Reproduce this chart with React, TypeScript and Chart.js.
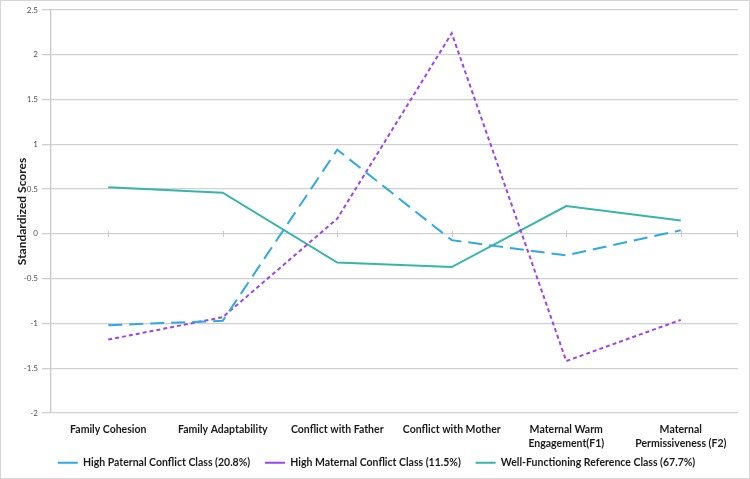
import React, { useEffect, useRef } from "react";
import { Chart, registerables } from "chart.js";

Chart.register(...registerables);

const categories: (string | string[])[] = [
  "Family Cohesion",
  "Family Adaptability",
  "Conflict with Father",
  "Conflict with Mother",
  ["Maternal Warm", "Engagement(F1)"],
  ["Maternal", "Permissiveness (F2)"],
];

const paternalLabel = "High Paternal Conflict Class (20.8%)";
const maternalLabel = "High Maternal Conflict Class (11.5%)";
const wellLabel = "Well-Functioning Reference Class (67.7%)";

const paternalValues = [-1.02, -0.97, 0.94, -0.07, -0.24, 0.04];
const maternalValues = [-1.18, -0.93, 0.17, 2.24, -1.42, -0.96];
const wellValues = [0.52, 0.46, -0.32, -0.37, 0.31, 0.15];

const yMin = -2;
const yMax = 2.5;
const yStep = 0.5;
const yTitle = "Standardized Scores";

const FONT = "Lato, 'Open Sans', sans-serif";
const ITEM_GAP = "\u00a0\u00a0\u00a0\u00a0\u00a0";

const zeroTicks = {
  id: "zeroTicks",
  afterDatasetsDraw(chart: any) {
    const { ctx, scales } = chart;
    const x = scales.x;
    const y = scales.y;
    const yz = y.getPixelForValue(0);
    ctx.save();
    ctx.strokeStyle = "#c8c8c8";
    ctx.lineWidth = 1;
    ctx.beginPath();
    for (let i = 0; i < categories.length; i++) {
      const px = Math.round(x.getPixelForValue(i)) + 0.5;
      ctx.moveTo(px, yz - 3);
      ctx.lineTo(px, yz + 3);
    }
    const r = Math.round(x.right) - 0.5;
    ctx.moveTo(r, yz - 3);
    ctx.lineTo(r, yz + 3);
    ctx.stroke();
    ctx.restore();
  },
};

export default function App() {
  const ref = useRef<HTMLCanvasElement>(null);
  useEffect(() => {
    if (!ref.current) return;
    const chart = new Chart(ref.current, {
      type: "line",
      data: {
        labels: categories,
        datasets: [
          {
            label: paternalLabel,
            data: paternalValues,
            borderColor: "#2fa9e6",
            backgroundColor: "#2fa9e6",
            borderWidth: 2,
            borderDash: [14, 7],
            pointRadius: 0,
            tension: 0,
          },
          {
            label: maternalLabel,
            data: maternalValues,
            borderColor: "#9b45ee",
            backgroundColor: "#9b45ee",
            borderWidth: 2,
            borderDash: [4, 3],
            pointRadius: 0,
            tension: 0,
          },
          {
            label: wellLabel,
            data: wellValues,
            borderColor: "#36b5a8",
            backgroundColor: "#36b5a8",
            borderWidth: 2,
            pointRadius: 0,
            tension: 0,
          },
        ],
      },
      options: {
        animation: false,
        responsive: false,
        maintainAspectRatio: false,
        layout: { padding: { left: 14, right: 11, top: 9, bottom: 0 } },
        plugins: {
          tooltip: { enabled: false },
          legend: {
            position: "bottom",
            labels: {
              usePointStyle: true,
              pointStyle: "line",
              pointStyleWidth: 20,
              boxHeight: 2,
              padding: 2,
              color: "#1a1a1a",
              font: { family: FONT, size: 10.5, weight: 700 },
              generateLabels(c: any) {
                const items = Chart.defaults.plugins.legend.labels.generateLabels(c);
                items.forEach((it: any, i: number) => {
                  if (i < items.length - 1) it.text = it.text + ITEM_GAP;
                });
                return items;
              },
            },
          },
        },
        scales: {
          x: {
            offset: true,
            grid: { display: false, drawTicks: false },
            border: { display: false },
            afterFit(scale: any) {
              scale.height = 42.5;
            },
            ticks: {
              color: "#1a1a1a",
              font: { family: FONT, size: 10.5, weight: 700, lineHeight: 1.3 },
              maxRotation: 0,
              autoSkip: false,
              padding: 10,
            },
          },
          y: {
            min: yMin,
            max: yMax,
            afterFit(scale: any) {
              scale.width = 36;
            },
            ticks: {
              stepSize: yStep,
              color: "#505050",
              font: { family: FONT, size: 8 },
              padding: 4,
              callback: (v: any) => String(Number(v)),
            },
            grid: { color: "#d0d0d0", lineWidth: 1.3, tickLength: 9 },
            border: { display: true, color: "#c8c8c8", width: 1.3 },
            title: {
              display: true,
              text: yTitle,
              color: "#1a1a1a",
              font: { family: FONT, size: 12, weight: 700 },
              padding: { top: 0, bottom: 0 },
            },
          },
        },
      },
      plugins: [zeroTicks],
    });
    return () => chart.destroy();
  }, []);
  return (
    <div
      style={{
        position: "absolute",
        left: 0,
        top: 0,
        width: 750,
        height: 479,
        background: "#fff",
        boxSizing: "border-box",
        border: "1px solid #d6d6d6",
        overflow: "hidden",
      }}
    >
      <canvas ref={ref} width={748} height={477} style={{ display: "block" }} />
    </div>
  );
}
